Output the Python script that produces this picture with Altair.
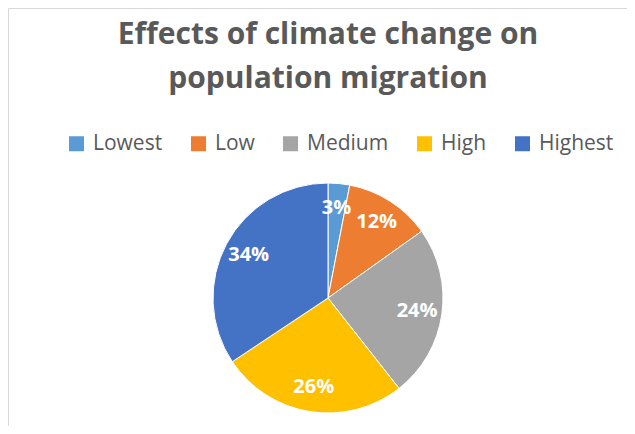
import altair as alt
import pandas as pd

categories = ["Lowest", "Low", "Medium", "High", "Highest"]
values = [3, 12, 24, 26, 34]
colors = ["#5B9BD5", "#ED7D31", "#A5A5A5", "#FFC000", "#4472C4"]
title_lines = ["Effects of climate change on", "population migration"]

df = pd.DataFrame({"category": categories, "value": values, "order": list(range(len(categories)))})
df["label"] = df["value"].astype(str) + "%"

W, H = 598, 256
PAD_L, PAD_T = 21, 162
FONT = "Open Sans"

base = alt.Chart(df).encode(
    theta=alt.Theta("value:Q", stack=True),
    order=alt.Order("order:Q"),
)

pie = base.mark_arc(outerRadius=115, stroke="white", strokeWidth=1).encode(
    color=alt.Color(
        "category:N",
        sort=categories,
        scale=alt.Scale(domain=categories, range=colors),
        legend=alt.Legend(
            orient="none", legendX=37, legendY=-37, direction="horizontal",
            title=None, symbolType="square", symbolSize=225, symbolStrokeWidth=0,
            labelFontSize=21, labelFont=FONT, labelColor="#595959",
            columnPadding=25, labelOffset=6,
        ),
    )
)

text = base.mark_text(radius=90, font=FONT, fontSize=20, fontWeight="bold", color="white").encode(
    text="label:N"
)

frame_df = pd.DataFrame({"k": [0]})
top_border = alt.Chart(frame_df).mark_rule(color="#d9d9d9", strokeWidth=1).encode(
    x=alt.value(-PAD_L + 0.5), x2=alt.value(W + 40), y=alt.value(-PAD_T + 0.5)
)
left_border = alt.Chart(frame_df).mark_rule(color="#d9d9d9", strokeWidth=1).encode(
    x=alt.value(-PAD_L + 0.5), y=alt.value(-PAD_T + 0.5), y2=alt.value(H + 40)
)

chart = alt.layer(top_border, left_border, pie, text).properties(
    width=W, height=H,
    padding={"left": PAD_L, "top": PAD_T, "right": 0, "bottom": 0},
    autosize="none",
    title=alt.TitleParams(
        title_lines, font=FONT, fontSize=30, fontWeight="bold", color="#595959",
        lineHeight=44, anchor="middle", offset=-86, frame="group",
    ),
).configure_view(strokeWidth=0)

chart.save("out.html", embed_options={"renderer": "svg", "actions": False})
